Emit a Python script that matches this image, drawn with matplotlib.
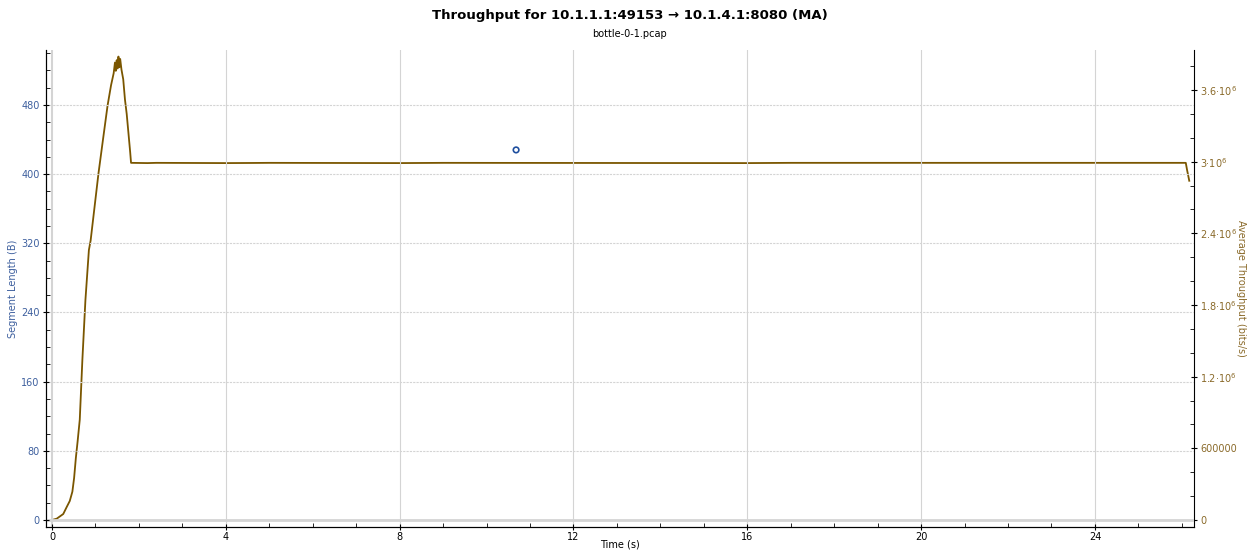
import matplotlib
matplotlib.use("Agg")
import matplotlib.pyplot as plt
from matplotlib.ticker import MultipleLocator

# throughput (moving average), bits/s
time_s = [0.0, 0.11, 0.26, 0.34, 0.41, 0.47, 0.51, 0.55, 0.59, 0.64, 0.70, 0.77,
          0.85, 0.89, 0.98, 1.07, 1.18, 1.28, 1.36, 1.42, 1.45, 1.47, 1.49, 1.51,
          1.53, 1.55, 1.57, 1.60, 1.64, 1.68, 1.72, 1.76, 1.80, 1.82,
          2.2, 2.4, 4.0, 4.6, 5.0, 8.0, 9.0, 16.0, 17.0, 26.09, 26.12, 26.17]
throughput = [0, 10900, 50000, 109000, 159000, 237000, 352000, 519000, 656000, 840000,
              1340000, 1840000, 2260000, 2340000, 2620000, 2900000, 3200000, 3470000,
              3640000, 3740000, 3830000, 3760000, 3850000, 3780000, 3880000, 3790000,
              3860000, 3770000, 3690000, 3520000, 3400000, 3240000, 3080000, 2990000,
              2988000, 2990000, 2988000, 2989000, 2990000, 2988000, 2990000, 2988000,
              2990000, 2990000, 2930000, 2840000]

# segment length points
seg_time = [10.68]
seg_len = [428]

left_ticks = [0, 80, 160, 240, 320, 400, 480]
right_ticks = [0, 600000, 1200000, 1800000, 2400000, 3000000, 3600000]
right_labels = ["0", "600000", "1.2·10$^6$", "1.8·10$^6$", "2.4·10$^6$", "3·10$^6$", "3.6·10$^6$"]

blue = "#3d5f9e"
brown = "#8a6a2a"
line_col = "#7a5600"

fig = plt.figure(figsize=(12.59, 5.51), dpi=100)
ax = fig.add_axes([0.0365, 0.0436, 0.9119, 0.8657])
ax2 = ax.twinx()

ax.set_xlim(-0.138, 26.28)
ax.set_ylim(-8.1, 543.6)
ax2.set_ylim(-58600, 3.935e6)

# grid
for y in left_ticks:
    ax.axhline(y, color="#d4d4d4", lw=2 if y == 0 else 0.8, ls="-" if y == 0 else (0, (2, 1)), zorder=0)
for x in range(0, 25, 4):
    ax.axvline(x, color="#d4d4d4", lw=1.5 if x == 0 else 0.8, zorder=0)

ax2.plot(time_s, throughput, color=line_col, lw=1.3, zorder=3)
ax.scatter(seg_time, seg_len, s=16, facecolors="none", edgecolors="#1f4f9f", linewidths=1.2, zorder=4)
ax.set_zorder(ax2.get_zorder() + 1)
ax.patch.set_visible(False)

ax.set_yticks(left_ticks)
ax.yaxis.set_minor_locator(MultipleLocator(20))
ax.set_xticks(range(0, 25, 4))
ax.xaxis.set_minor_locator(MultipleLocator(1))
ax2.set_yticks(right_ticks)
ax2.set_yticklabels(right_labels)
ax2.yaxis.set_minor_locator(MultipleLocator(200000))

for a in (ax, ax2):
    a.spines["top"].set_visible(False)
ax.spines["right"].set_visible(False)

ax.tick_params(axis="y", which="major", direction="inout", length=5, labelsize=7, labelcolor=blue, pad=2)
ax.tick_params(axis="y", which="minor", direction="in", length=3)
ax.tick_params(axis="x", which="major", direction="inout", length=5, labelsize=7, pad=1)
ax.tick_params(axis="x", which="minor", direction="in", length=3)
ax2.tick_params(axis="y", which="major", direction="inout", length=5, labelsize=7, labelcolor=brown, pad=2)
ax2.tick_params(axis="y", which="minor", direction="in", length=3)

ax.set_ylabel("Segment Length (B)", color=blue, fontsize=7, labelpad=2)
ax2.set_ylabel("Average Throughput (bits/s)", color=brown, fontsize=7, rotation=-90, labelpad=6)
fig.text(0.4925, 0.012, "Time (s)", ha="center", va="center", fontsize=7)

fig.text(0.5, 0.972, "Throughput for 10.1.1.1:49153 → 10.1.4.1:8080 (MA)",
         ha="center", va="center", fontsize=9.5, fontweight="bold")
fig.text(0.5, 0.939, "bottle-0-1.pcap", ha="center", va="center", fontsize=7)

fig.savefig("out.png", dpi=100)
